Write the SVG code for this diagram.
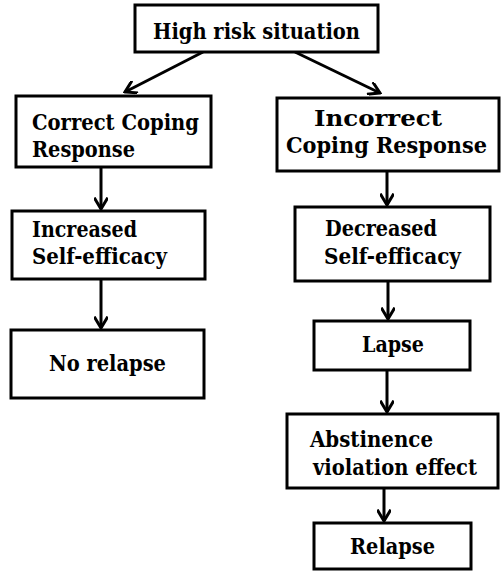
<svg xmlns="http://www.w3.org/2000/svg" width="501" height="571" viewBox="0 0 501 571">
  <style>
    .box { fill: #ffffff; stroke: #000000; stroke-width: 3; }
    .lbl { font-family: "DejaVu Serif", "Liberation Serif", serif; font-weight: bold; font-size: 22px; fill: #000000; }
    .edge { fill: none; stroke: #000000; stroke-width: 3; marker-end: url(#head); }
  </style>
  <defs>
    <marker id="head" markerUnits="userSpaceOnUse" viewBox="0 0 14 14" refX="12" refY="7" markerWidth="14" markerHeight="14" orient="auto">
      <path d="M2,1 L12,7 L2,13" fill="none" stroke="#000000" stroke-width="3" stroke-linecap="square"/>
    </marker>
  </defs>

  <rect width="501" height="571" fill="#ffffff"/>

  <!-- connectors -->
  <g id="connectors">
    <line class="edge" x1="203" y1="52" x2="125" y2="92"/>
    <line class="edge" x1="295" y1="52" x2="380" y2="93"/>
    <line class="edge" x1="101" y1="167" x2="101" y2="209"/>
    <line class="edge" x1="101" y1="279" x2="101" y2="328"/>
    <line class="edge" x1="387" y1="171" x2="387" y2="205"/>
    <line class="edge" x1="388" y1="281" x2="388" y2="319"/>
    <line class="edge" x1="387" y1="370" x2="387" y2="412"/>
    <line class="edge" x1="384" y1="488" x2="384" y2="521"/>
  </g>

  <g id="high-risk">
    <rect class="box" x="135" y="5" width="243" height="47"/>
    <text class="lbl" x="153" y="39" textLength="207" lengthAdjust="spacingAndGlyphs">High risk situation</text>
  </g>

  <g id="correct-coping">
    <rect class="box" x="16" y="96" width="195" height="71"/>
    <text class="lbl" x="32" y="130" textLength="167" lengthAdjust="spacingAndGlyphs">Correct Coping</text>
    <text class="lbl" x="32" y="157" textLength="103" lengthAdjust="spacingAndGlyphs">Response</text>
  </g>

  <g id="incorrect-coping">
    <rect class="box" x="277" y="98" width="222" height="73"/>
    <text class="lbl" x="314" y="126" textLength="128" lengthAdjust="spacingAndGlyphs">Incorrect</text>
    <text class="lbl" x="286" y="153" textLength="201" lengthAdjust="spacingAndGlyphs">Coping Response</text>
  </g>

  <g id="increased-self-efficacy">
    <rect class="box" x="12" y="211" width="193" height="68"/>
    <text class="lbl" x="32" y="237" textLength="105" lengthAdjust="spacingAndGlyphs">Increased</text>
    <text class="lbl" x="32" y="264" textLength="135" lengthAdjust="spacingAndGlyphs">Self-efficacy</text>
  </g>

  <g id="no-relapse">
    <rect class="box" x="11" y="330" width="193" height="68"/>
    <text class="lbl" x="49" y="371" textLength="117" lengthAdjust="spacingAndGlyphs">No relapse</text>
  </g>

  <g id="decreased-self-efficacy">
    <rect class="box" x="295" y="207" width="195" height="74"/>
    <text class="lbl" x="325" y="236" textLength="112" lengthAdjust="spacingAndGlyphs">Decreased</text>
    <text class="lbl" x="324" y="264" textLength="137" lengthAdjust="spacingAndGlyphs">Self-efficacy</text>
  </g>

  <g id="lapse">
    <rect class="box" x="314" y="321" width="156" height="49"/>
    <text class="lbl" x="362" y="352" textLength="62" lengthAdjust="spacingAndGlyphs">Lapse</text>
  </g>

  <g id="abstinence-violation">
    <rect class="box" x="287" y="414" width="211" height="74"/>
    <text class="lbl" x="310" y="447" textLength="123" lengthAdjust="spacingAndGlyphs">Abstinence</text>
    <text class="lbl" x="313" y="475" textLength="164" lengthAdjust="spacingAndGlyphs">violation effect</text>
  </g>

  <g id="relapse">
    <rect class="box" x="314" y="523" width="157" height="46"/>
    <text class="lbl" x="350" y="554" textLength="85" lengthAdjust="spacingAndGlyphs">Relapse</text>
  </g>
</svg>
